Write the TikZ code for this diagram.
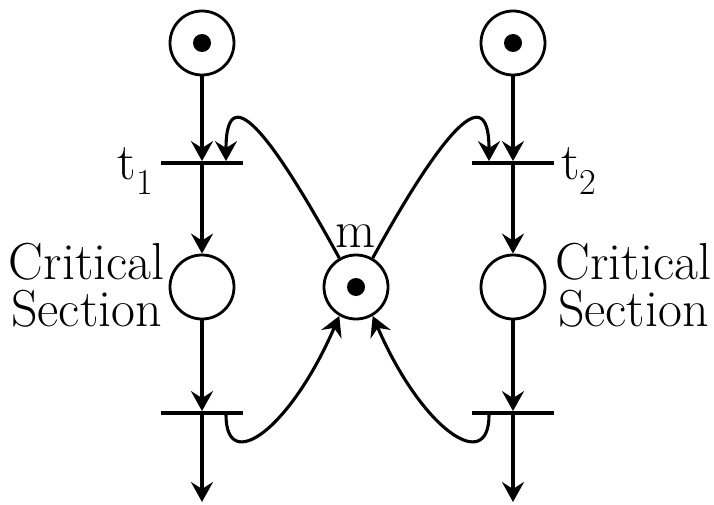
\documentclass[tikz,border=0pt]{standalone}
\usetikzlibrary{arrows.meta, calc}
\tikzset{
  place/.style={circle, draw, line width=2.8pt, minimum size=64pt, inner sep=0pt},
  token/.style={circle, fill=black, minimum size=18pt, inner sep=0pt},
  bar/.style={rectangle, fill=black, minimum width=82pt, minimum height=3.4pt, inner sep=0pt},
  arc/.style={line width=3.1pt, -{Stealth[length=20pt,width=22pt,inset=7pt]}},
  lbl/.style={font=\fontsize{52}{47}\selectfont, inner sep=3pt}
}

\begin{document}
\begin{tikzpicture}[x=1pt, y=-1pt]
        \useasboundingbox (0,0) rectangle (714,505);
        % left process
        \node (p1) [place] at (202,43) {};
        \node (k1) [token] at (p1) {};
        \node (t1) [bar] at (202,163) {};
        \node (cs1) [place] at (202,287) {};
        \node (b1) [bar] at (202,413) {};
        \coordinate (end1) at (202,502);
        % right process
        \node (p2) [place] at (513,43) {};
        \node (k2) [token] at (p2) {};
        \node (t2) [bar] at (513,163) {};
        \node (cs2) [place] at (513,287) {};
        \node (b2) [bar] at (513,413) {};
        \coordinate (end2) at (513,502);
        % mutex
        \node (m) [place] at (356,287) {};
        \node (k3) [token] at (m) {};
        % labels
        \node (t1lbl) [lbl, anchor=east] at ($(t1.west)+(-4,8)$) {t\textsubscript{1}};
        \node (t2lbl) [lbl, anchor=west] at ($(t2.east)+(4,8)$) {t\textsubscript{2}};
        \node (mlbl) [lbl, anchor=south] at ($(m.north)+(0,-3)$) {m};
        \node (cs1lbl) [lbl, align=center, anchor=east] at ($(cs1.west)+(-1,-2)$) {Critical\\Section};
        \node (cs2lbl) [lbl, align=center, anchor=west] at ($(cs2.east)+(6,-2)$) {Critical\\Section};
        % arcs
        \draw[arc] (p1) -- (t1);
        \draw[arc] (t1) -- (cs1);
        \draw[arc] (cs1) -- (b1);
        \draw[arc] (b1) -- (end1);
        \draw[arc] (p2) -- (t2);
        \draw[arc] (t2) -- (cs2);
        \draw[arc] (cs2) -- (b2);
        \draw[arc] (b2) -- (end2);
        \draw[arc] (m.120) .. controls (280,150) and (226,70) .. ($(t1.north)+(24,0)$);
        \draw[arc] (m.60) .. controls (432,150) and (489,70) .. ($(t2.north)+(-24,0)$);
        \draw[arc] ($(b1.south)+(24,0)$) .. controls (226,475) and (290,430) .. (m.240);
        \draw[arc] ($(b2.south)+(-24,0)$) .. controls (489,475) and (422,430) .. (m.300);
\end{tikzpicture}
\end{document}
